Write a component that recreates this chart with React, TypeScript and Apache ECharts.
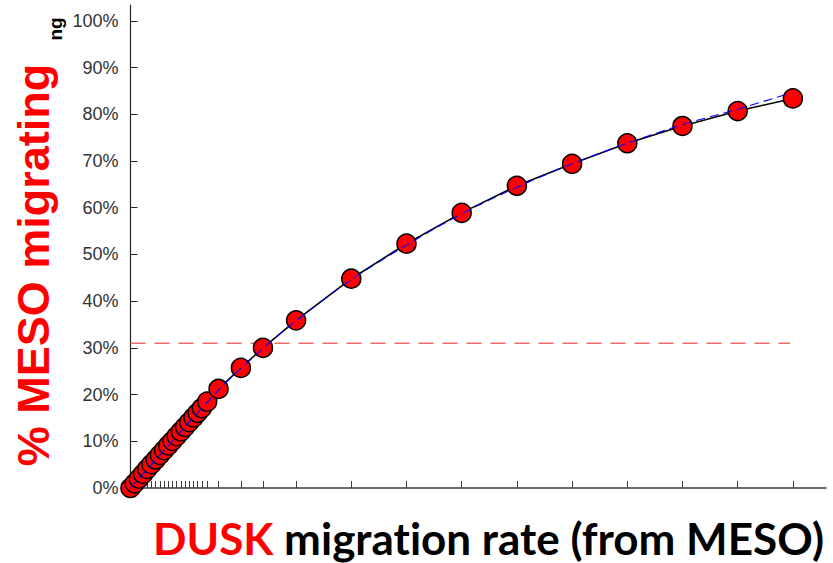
import React, { useEffect, useRef } from "react";
import * as echarts from "echarts";

// Measured points (x in arbitrary rate units, y in % migrating)
const rateValues = [
  0, 0.076, 0.152, 0.228, 0.304, 0.38, 0.456, 0.532, 0.608, 0.684, 0.76, 0.836,
  0.912, 0.988, 1.064, 1.14, 1.216, 1.292, 1.39, 1.595, 2.0, 2.4, 3, 4, 5, 6, 7,
  8, 9, 10, 11, 12,
];
const migratingPct = [
  0, 1.0, 2.0, 3.0, 4.1, 5.1, 6.1, 7.1, 8.1, 9.1, 10.1, 11.1, 12.1, 13.1, 14.1,
  15.1, 16.1, 17.1, 18.5, 21.2, 25.7, 30.0, 35.9, 44.8, 52.3, 58.9, 64.7, 69.4,
  73.8, 77.5, 80.7, 83.4,
];
// Fitted curve (blue dashed)
const fitRate = [0, 1.595, 2.0, 2.4, 3, 4, 5, 6, 7, 8, 9, 10, 11, 11.95];
const fitPct = [0, 21.0, 25.6, 29.9, 35.8, 44.6, 52.0, 58.7, 64.4, 69.4, 73.8, 77.8, 81.1, 84.5];
// Threshold line
const thresholdPct = 31;
const thresholdRange = [0, 11.95];
// Y tick labels
const yTicks = [0, 10, 20, 30, 40, 50, 60, 70, 80, 90, 100];

const ARIAL = "'Liberation Sans', Arial, sans-serif";

export default function App() {
  const ref = useRef<HTMLDivElement>(null);
  useEffect(() => {
    if (!ref.current) return;
    const chart = echarts.init(ref.current, null, { renderer: "svg" });
    const pts = rateValues.map((x, i) => [x, migratingPct[i]]);
    const fit = fitRate.map((x, i) => [x, fitPct[i]]);
    const thr = thresholdRange.map((x) => [x, thresholdPct]);
    chart.setOption({
      animation: false,
      backgroundColor: "#ffffff",
      grid: { left: 130.5, right: 7, top: 5, bottom: 75, containLabel: false, outerBoundsMode: "none" },
      xAxis: {
        type: "value",
        min: 0,
        max: 12.6,
        axisLine: { show: true, lineStyle: { color: "#3a3a3a", width: 1.5 } },
        axisTick: { show: true, inside: true, length: 7, customValues: rateValues, lineStyle: { color: "#3a3a3a", width: 1 } },
        axisLabel: { show: false },
        splitLine: { show: false },
      },
      yAxis: {
        type: "value",
        min: 0,
        max: 103.4,
        interval: 10,
        axisLine: { show: true, lineStyle: { color: "#262626", width: 1.2 } },
        axisTick: { show: true, inside: true, length: 7, customValues: yTicks, lineStyle: { color: "#262626", width: 1 } },
        axisLabel: {
          customValues: yTicks,
          formatter: (v: number) => `${v}%`,
          color: "#333333",
          fontSize: 18,
          fontFamily: ARIAL,
          margin: 12,
        },
        splitLine: { show: false },
      },
      series: [
        {
          type: "line",
          data: thr,
          symbol: "none",
          z: 1,
          lineStyle: { color: "#f26b6b", width: 1.5, type: [15, 9] },
        },
        {
          type: "line",
          data: pts,
          symbol: "none",
          z: 2,
          lineStyle: { color: "#000000", width: 1.6 },
        },
        {
          type: "scatter",
          data: pts,
          symbol: "circle",
          symbolSize: 19,
          z: 3,
          itemStyle: { color: "#ff0000", borderColor: "#000000", borderWidth: 1.5, opacity: 1 },
        },
        {
          type: "line",
          data: fit,
          symbol: "none",
          smooth: 0.3,
          z: 4,
          lineStyle: { color: "#0000ff", width: 1.1, type: [9, 5] },
        },
      ],
      graphic: [
        {
          type: "text",
          x: 33,
          y: 265,
          rotation: Math.PI / 2,
          style: {
            text: "% MESO migrating",
            fill: "#ff0000",
            fontSize: 45,
            fontWeight: "bold",
            fontFamily: ARIAL,
            align: "center",
            verticalAlign: "middle",
          },
        },
        {
          type: "text",
          x: 55,
          y: 29,
          rotation: Math.PI / 2,
          style: {
            text: "ng",
            fill: "#000000",
            fontSize: 19,
            fontWeight: "bold",
            fontFamily: ARIAL,
            align: "center",
            verticalAlign: "middle",
          },
        },
        {
          type: "text",
          x: 153,
          y: 538,
          style: {
            text: "{r|DUSK} {k|migrat}{k|ion rate (from MESO)}",
            align: "left",
            verticalAlign: "middle",
            fontSize: 44,
            fontWeight: "bold",
            fontFamily: "Lato, sans-serif",
            rich: {
              r: { fill: "#ff0000", color: "#ff0000", fontSize: 44, fontWeight: "bold", fontFamily: "Lato, sans-serif" },
              k: { fill: "#000000", color: "#000000", fontSize: 44, fontWeight: "bold", fontFamily: "Lato, sans-serif" },
            },
          },
        },
      ],
    });
    return () => chart.dispose();
  }, []);
  return <div ref={ref} style={{ width: 833, height: 563, position: "absolute", left: 0, top: 0 }} />;
}
